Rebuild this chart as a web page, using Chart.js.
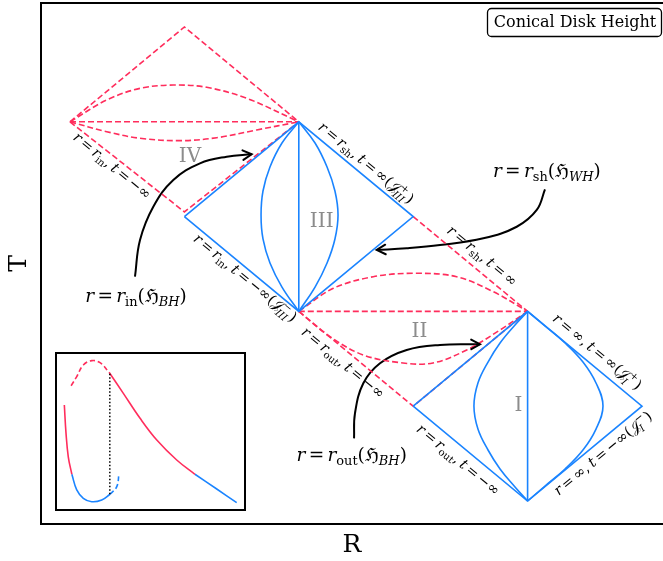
<!DOCTYPE html>
<html>
<head>
<meta charset="utf-8">
<script src="https://cdn.jsdelivr.net/npm/chart.js@4.4.1/dist/chart.umd.min.js"></script>
<style>
  body { margin: 0; background: #fff; }
  #wrap { position: relative; width: 663px; height: 561px; }
  #insetBox { position: absolute; left: 55px; top: 352px; width: 187px; height: 155px; border: 2px solid #000; background: #fff; }
</style>
</head>
<body>
<div id="wrap">
  <canvas id="penrose" width="663" height="561"></canvas>
  <div id="insetBox"><canvas id="insetChart" width="187" height="155"></canvas></div>
</div>
<script>
// diagram units: one step = half a diamond (R to the right, T upwards)
const edgeI = [[3, 1], [4, 2], [5, 1], [4, 0], [3, 1]];
const axisI = [[4, 2], [4, 0]];
const curveIleft = [[4, 2], [3.890, 1.857], [3.759, 1.667], [3.654, 1.466], [3.566, 1.245], [3.531, 1.002], [3.566, 0.759], [3.654, 0.538], [3.759, 0.338], [3.890, 0.148], [4, 0]];
const curveIright = [[4, 2], [4.152, 1.846], [4.327, 1.667], [4.484, 1.466], [4.598, 1.245], [4.659, 1.002], [4.598, 0.759], [4.484, 0.538], [4.327, 0.338], [4.152, 0.158], [4, 0]];

const edgeIII = [[1, 3], [2, 4], [3, 3], [2, 2], [1, 3]];
const axisIII = [[2, 4], [2, 2]];
const curveIIIleft = [[2, 4], [1.853, 3.776], [1.748, 3.523], [1.687, 3.270], [1.670, 3.017], [1.687, 2.764], [1.748, 2.511], [1.853, 2.257], [2, 2]];
const curveIIIright = [[2, 4], [2.142, 3.776], [2.247, 3.523], [2.316, 3.270], [2.343, 3.017], [2.316, 2.764], [2.247, 2.511], [2.142, 2.257], [2, 2]];

const edgeIVtop = [[0, 4], [1, 5], [2, 4]];
const edgeIVbottom = [[0, 4], [1, 3.05], [2, 4]];
const midIV = [[0, 4], [2, 4]];
const arcIVupper = [[0, 4], [0.321, 4.23], [0.612, 4.353], [0.903, 4.388], [1.195, 4.364], [1.545, 4.248], [2, 4]];
const arcIVlower = [[0, 4], [0.321, 3.896], [0.612, 3.826], [0.962, 3.801], [1.282, 3.832], [1.632, 3.914], [2, 4]];

const edgeIIupper = [[3, 3], [4, 2]];
const edgeIIlower = [[2, 2], [3, 1], [4, 2]];
const midII = [[2, 2], [4, 2]];
const arcIIupper = [[2, 2], [2.302, 2.244], [2.651, 2.366], [3.0, 2.402], [3.38, 2.366], [3.7, 2.208], [4, 2]];
const arcIIlower = [[2, 2], [2.273, 1.733], [2.564, 1.54], [2.911, 1.456], [3.173, 1.456], [3.468, 1.593], [3.759, 1.804], [4, 2]];

const arrowIn = [[0.568, 2.366], [0.612, 2.753], [0.728, 3.104], [0.903, 3.386], [1.136, 3.562], [1.37, 3.632], [1.588, 3.657]];
const arrowSh = [[4.152, 3.288], [4.08, 3.07], [3.905, 2.893], [3.613, 2.771], [3.234, 2.7], [2.943, 2.666], [2.681, 2.648]];
const arrowOut = [[2.483, 0.661], [2.491, 0.925], [2.564, 1.242], [2.71, 1.453], [2.943, 1.593], [3.234, 1.646], [3.584, 1.653]];

// inset (0..10 both ways)
const insetRedDash = [[0.80, 7.95], [1.10, 8.54], [1.45, 9.29], [1.90, 9.57], [2.34, 9.44], [2.82, 8.82]];
const insetRedRight = [[2.82, 8.82], [3.58, 7.46], [4.47, 5.85], [5.36, 4.45], [6.42, 3.16], [7.39, 2.24]];
const insetBlueRight = [[7.39, 2.24], [8.55, 1.29], [9.61, 0.41]];
const insetRedLeft = [[0.44, 6.71], [0.53, 4.88], [0.65, 3.37], [0.84, 2.24]];
const insetBlueU = [[0.84, 2.24], [1.10, 1.23], [1.45, 0.69], [1.90, 0.47], [2.43, 0.58], [2.87, 0.95]];
const insetBlueDash = [[2.87, 0.95], [3.23, 1.44], [3.35, 2.30]];
const insetDotted = [[2.86, 0.95], [2.86, 8.82]];

const regionNames = ["I", "II", "III", "IV"];
const regionAt = [[3.919, 1.0], [3.054, 1.786], [2.2, 2.946], [1.049, 3.63]];

// math pieces: i italic, n upright, r relation, c comma, b subscript, bi italic subscript, ps sup|sub
const edgeLabels = [
  { seg: [["i", "r"], ["r", "="], ["i", "r"], ["b", "in"], ["c", ","], ["i", "t"], ["r", "="], ["n", "−∞"]], at: [0.367, 3.534], dir: 1 },
  { seg: [["i", "r"], ["r", "="], ["i", "r"], ["b", "sh"], ["c", ","], ["i", "t"], ["r", "="], ["n", "∞("], ["n", "𝒥"], ["ps", "+|III"], ["n", ")"]], at: [2.587, 3.565], dir: 1 },
  { seg: [["i", "r"], ["r", "="], ["i", "r"], ["b", "in"], ["c", ","], ["i", "t"], ["r", "="], ["n", "−∞("], ["n", "𝒥"], ["ps", "−|III"], ["n", ")"]], at: [1.53, 2.352], dir: 1 },
  { seg: [["i", "r"], ["r", "="], ["i", "r"], ["b", "sh"], ["c", ","], ["i", "t"], ["r", "="], ["n", "∞"]], at: [3.601, 2.584], dir: 1 },
  { seg: [["i", "r"], ["r", "="], ["i", "r"], ["b", "out"], ["c", ","], ["i", "t"], ["r", "="], ["n", "−∞"]], at: [2.386, 1.456], dir: 1 },
  { seg: [["i", "r"], ["r", "="], ["n", "∞"], ["c", ","], ["i", "t"], ["r", "="], ["n", "∞("], ["n", "𝒥"], ["ps", "+|I"], ["n", ")"]], at: [4.607, 1.572], dir: 1 },
  { seg: [["i", "r"], ["r", "="], ["i", "r"], ["b", "out"], ["c", ","], ["i", "t"], ["r", "="], ["n", "−∞"]], at: [3.392, 0.432], dir: 1 },
  { seg: [["i", "r"], ["r", "="], ["n", "∞"], ["c", ","], ["i", "t"], ["r", "="], ["n", "−∞("], ["n", "𝒥"], ["ps", "−|I"], ["n", ")"]], at: [4.66, 0.5], dir: -1 }
];
const arrowLabels = [
  { seg: [["i", "r"], ["r", "="], ["i", "r"], ["b", "in"], ["n", "(ℌ"], ["bi", "BH"], ["n", ")"]], at: [0.577, 2.162] },
  { seg: [["i", "r"], ["r", "="], ["i", "r"], ["b", "sh"], ["n", "(ℌ"], ["bi", "WH"], ["n", ")"]], at: [4.168, 3.474] },
  { seg: [["i", "r"], ["r", "="], ["i", "r"], ["b", "out"], ["n", "(ℌ"], ["bi", "BH"], ["n", ")"]], at: [2.462, 0.485] }
];

const BLUE = "#1a84ff";
const RED = "#ff2d5c";
const FAM = "'DejaVu Serif', 'Liberation Serif', serif";

function pts(a) {
  return a.map(p => ({ x: p[0], y: p[1] }));
}

function line(a, color, opts) {
  return Object.assign({
    data: pts(a),
    showLine: true,
    borderColor: color,
    borderWidth: 1.6,
    pointRadius: 0,
    tension: 0,
    fill: false
  }, opts || {});
}

function segFont(type, size) {
  let s = size;
  if (type == "b" || type == "bi") s = size * 0.7;
  let it = (type == "i" || type == "bi") ? "italic " : "";
  return it + s + "px " + FAM;
}

function segWidth(ctx, s, size) {
  let type = s[0];
  if (type == "ps") {
    ctx.font = (size * 0.7) + "px " + FAM;
    let parts = s[1].split("|");
    let w1 = ctx.measureText(parts[0]).width;
    ctx.font = "italic " + (size * 0.7) + "px " + FAM;
    let w2 = ctx.measureText(parts[1]).width;
    return Math.max(w1, w2 - size * 0.1) + size * 0.08;
  }
  ctx.font = segFont(type, size);
  let w = ctx.measureText(s[1]).width;
  if (type == "r") w += size * 0.36;
  if (type == "c") w += size * 0.22;
  return w;
}

function drawMath(ctx, segs, cx, cy, size, angle, color) {
  ctx.save();
  ctx.translate(cx, cy);
  ctx.rotate(angle);
  ctx.fillStyle = color;
  ctx.textBaseline = "alphabetic";
  ctx.textAlign = "left";
  let total = 0;
  segs.forEach(s => total += segWidth(ctx, s, size));
  let x = -total / 2;
  let base = size * 0.3;
  segs.forEach(s => {
    let type = s[0];
    let w = segWidth(ctx, s, size);
    if (type == "ps") {
      let parts = s[1].split("|");
      ctx.font = (size * 0.7) + "px " + FAM;
      ctx.fillText(parts[0], x + size * 0.02, base - size * 0.42);
      ctx.font = "italic " + (size * 0.7) + "px " + FAM;
      ctx.fillText(parts[1], x - size * 0.12, base + size * 0.3);
    } else {
      ctx.font = segFont(type, size);
      let dx = type == "r" ? size * 0.18 : 0;
      let dy = (type == "b" || type == "bi") ? size * 0.22 : 0;
      ctx.fillText(s[1], x + dx, base + dy);
    }
    x += w;
  });
  ctx.restore();
}

function arrowHead(ctx, x, y, p0, p1) {
  let a = Math.atan2(y.getPixelForValue(p1[1]) - y.getPixelForValue(p0[1]), x.getPixelForValue(p1[0]) - x.getPixelForValue(p0[0]));
  let px = x.getPixelForValue(p1[0]);
  let py = y.getPixelForValue(p1[1]);
  ctx.beginPath();
  ctx.moveTo(px - 10 * Math.cos(a - 0.5), py - 10 * Math.sin(a - 0.5));
  ctx.lineTo(px, py);
  ctx.lineTo(px - 10 * Math.cos(a + 0.5), py - 10 * Math.sin(a + 0.5));
  ctx.stroke();
}

const decor = {
  id: "decor",
  beforeDraw(chart) {
    const ctx = chart.ctx;
    ctx.save();
    ctx.fillStyle = "#fff";
    ctx.fillRect(0, 0, chart.width, chart.height);
    ctx.restore();
  },
  afterDatasetsDraw(chart) {
    const { ctx, chartArea: a } = chart;
    const x = chart.scales.x, y = chart.scales.y;
    ctx.save();
    ctx.strokeStyle = "#000";
    ctx.lineWidth = 2;
    ctx.beginPath();
    ctx.moveTo(chart.width + 2, a.top);
    ctx.lineTo(a.left, a.top);
    ctx.lineTo(a.left, a.bottom);
    ctx.lineTo(chart.width + 2, a.bottom);
    ctx.stroke();

    ctx.lineWidth = 2;
    ctx.lineCap = "round";
    [arrowIn, arrowSh, arrowOut].forEach(arr => arrowHead(ctx, x, y, arr[arr.length - 2], arr[arr.length - 1]));

    const ang = Math.atan2(y.getPixelForValue(0) - y.getPixelForValue(1), x.getPixelForValue(1) - x.getPixelForValue(0));
    edgeLabels.forEach(l => {
      drawMath(ctx, l.seg, x.getPixelForValue(l.at[0]), y.getPixelForValue(l.at[1]), 14.5, ang * l.dir, "#000");
    });
    arrowLabels.forEach(l => {
      drawMath(ctx, l.seg, x.getPixelForValue(l.at[0]), y.getPixelForValue(l.at[1]), 18.5, 0, "#000");
    });

    ctx.fillStyle = "#8c8c8c";
    ctx.font = "20px " + FAM;
    ctx.textAlign = "center";
    ctx.textBaseline = "middle";
    regionNames.forEach((n, i) => {
      ctx.fillText(n, x.getPixelForValue(regionAt[i][0]), y.getPixelForValue(regionAt[i][1]));
    });

    // legend box
    ctx.strokeStyle = "#000";
    ctx.lineWidth = 1.3;
    ctx.beginPath();
    ctx.roundRect(487.5, 8.5, 174, 28, 4);
    ctx.stroke();
    ctx.fillStyle = "#000";
    ctx.font = "16px " + FAM;
    ctx.fillText("Conical Disk Height", 575, 23);

    // axis titles
    ctx.font = "25px " + FAM;
    ctx.fillText("R", (a.left + a.right) / 2, 545);
    ctx.translate(19, (a.top + a.bottom) / 2);
    ctx.rotate(-Math.PI / 2);
    ctx.fillText("T", 0, 0);
    ctx.restore();
  }
};

const dash = [6, 3];
new Chart(document.getElementById("penrose"), {
  type: "scatter",
  data: {
    datasets: [
      line(edgeIII, BLUE),
      line(axisIII, BLUE),
      line(curveIIIleft, BLUE, { tension: 0.4 }),
      line(curveIIIright, BLUE, { tension: 0.4 }),
      line(edgeI, BLUE),
      line(axisI, BLUE),
      line(curveIleft, BLUE, { tension: 0.4 }),
      line(curveIright, BLUE, { tension: 0.4 }),
      line(edgeIVtop, RED, { borderDash: dash }),
      line(edgeIVbottom, RED, { borderDash: dash }),
      line(midIV, RED, { borderDash: dash }),
      line(arcIVupper, RED, { borderDash: dash, tension: 0.35 }),
      line(arcIVlower, RED, { borderDash: dash, tension: 0.35 }),
      line(edgeIIupper, RED, { borderDash: dash }),
      line(edgeIIlower, RED, { borderDash: dash }),
      line(midII, RED, { borderDash: dash }),
      line(arcIIupper, RED, { borderDash: dash, tension: 0.35 }),
      line(arcIIlower, RED, { borderDash: dash, tension: 0.35 }),
      line(arrowIn, "#000", { borderWidth: 2, tension: 0.4 }),
      line(arrowSh, "#000", { borderWidth: 2, tension: 0.4 }),
      line(arrowOut, "#000", { borderWidth: 2, tension: 0.4 })
    ]
  },
  options: {
    responsive: false,
    devicePixelRatio: 1,
    animation: false,
    layout: { padding: { left: 41, top: 3, right: 0, bottom: 37 } },
    plugins: { legend: { display: false }, tooltip: { enabled: false } },
    scales: {
      x: { type: "linear", display: false, min: -0.2535, max: 5.1836 },
      y: { type: "linear", display: false, min: -0.2426, max: 5.2532 }
    }
  },
  plugins: [decor]
});

new Chart(document.getElementById("insetChart"), {
  type: "scatter",
  data: {
    datasets: [
      line(insetDotted, "#000", { borderWidth: 1.5, borderDash: [1.5, 2] }),
      line(insetRedDash, RED, { borderDash: [5, 3], tension: 0.4 }),
      line(insetRedRight, RED, { tension: 0.4 }),
      line(insetBlueRight, BLUE, { tension: 0.4 }),
      line(insetRedLeft, RED, { tension: 0.4 }),
      line(insetBlueU, BLUE, { tension: 0.4 }),
      line(insetBlueDash, BLUE, { borderDash: [5, 3], tension: 0.4 })
    ]
  },
  options: {
    responsive: false,
    devicePixelRatio: 1,
    animation: false,
    layout: { padding: 0 },
    plugins: { legend: { display: false }, tooltip: { enabled: false } },
    scales: {
      x: { type: "linear", display: false, min: 0.05, max: 10 },
      y: { type: "linear", display: false, min: 0, max: 10 }
    }
  }
});
</script>
</body>
</html>
